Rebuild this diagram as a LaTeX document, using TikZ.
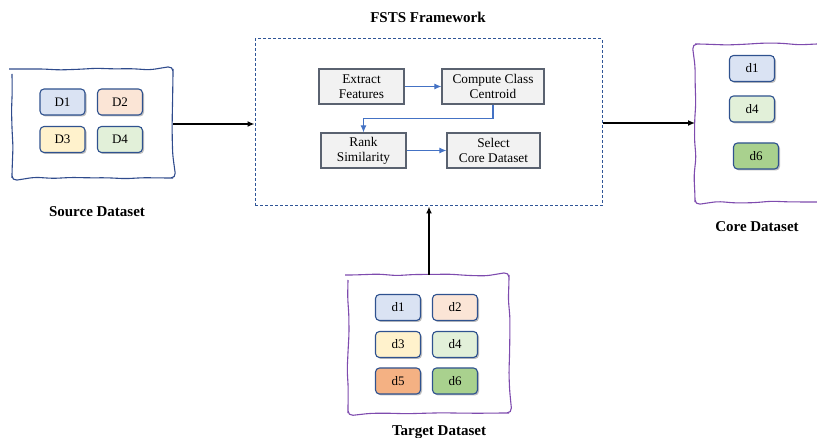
\documentclass[tikz,border=0pt]{standalone}
\usepackage{fontspec}
\setmainfont{Liberation Serif}
\usetikzlibrary{arrows.meta,shadows,decorations.pathmorphing,positioning}
\definecolor{cBlue}{HTML}{DAE3F3}
\definecolor{cOrange}{HTML}{FBE5D6}
\definecolor{cYellow}{HTML}{FFF2CC}
\definecolor{cGreen}{HTML}{E2F0D9}
\definecolor{cDOrange}{HTML}{F4B183}
\definecolor{cDGreen}{HTML}{A9D18E}
\definecolor{dBorder}{HTML}{2F528F}
\definecolor{pBorder}{HTML}{5A6270}
\definecolor{pFill}{HTML}{F2F2F2}
\definecolor{aBlue}{HTML}{4472C4}
\definecolor{dashBlue}{HTML}{2F5597}
\definecolor{wavyPurple}{HTML}{7E4BAE}
\definecolor{wavyNavy}{HTML}{2F4B8C}
\tikzset{
  dbox/.style={draw=dBorder, line width=1.1pt, rounded corners=4pt, minimum width=45pt, minimum height=26pt, inner sep=0pt, font=\fontsize{13}{15}\selectfont, drop shadow={shadow xshift=1.5pt, shadow yshift=-1.5pt, fill=black, opacity=0.25}},
  pbox/.style={draw=pBorder, fill=pFill, line width=1.2pt, minimum height=35pt, inner sep=0pt, align=center, font=\fontsize{13.3}{15}\selectfont},
  wavy/.style={decorate, decoration={random steps, segment length=18pt, amplitude=1pt}, rounded corners=5pt, line width=1.1pt},
  blk/.style={-{Latex[length=7pt,width=6pt]}, line width=1.4pt, black},
  bl/.style={-{Latex[length=7pt,width=6pt]}, line width=1.1pt, aBlue},
  lbl/.style={font=\bfseries\fontsize{15}{17}\selectfont, inner sep=0pt}
}
\begin{document}
\begin{tikzpicture}[x=1pt,y=1pt]
\useasboundingbox (0,0) rectangle (817,-438);
\pgfmathsetseed{7}
% Source dataset
\draw[wavy, wavyNavy] (12,-69) rectangle (173,-178);
\node[dbox, fill=cBlue, minimum width=45pt] (D1) at (62.5,-102) {D1};
\node[dbox, fill=cOrange] (D2) at (120,-102) {D2};
\node[dbox, fill=cYellow] (D3) at (62.5,-139.5) {D3};
\node[dbox, fill=cGreen] (D4) at (120,-139.5) {D4};
\coordinate (srcR) at (173,-124);
\node[lbl] (srcL) at (97,-212) {Source Dataset};

% Framework
\node[draw=dashBlue, dash pattern=on 3pt off 2pt, line width=1pt, minimum width=347pt, minimum height=167pt, inner sep=0pt] (fw) at (428.5,-122.5) {};
\node[lbl] (fwL) at (428,-17) {FSTS Framework};
\node[pbox, minimum width=85pt] (ef) at (361.5,-86.5) {Extract\\Features};
\node[pbox, minimum width=102pt] (cc) at (493,-86.5) {Compute Class\\Centroid};
\node[pbox, minimum width=85pt] (rs) at (363.5,-150.5) {Rank\\Similarity};
\node[pbox, minimum width=93pt] (sc) at (493.5,-150.5) {Select\\Core Dataset};
\draw[bl] (ef) -- (cc);
\draw[bl] (cc.south) -- ++(0,-14) -| (rs.north);
\draw[bl] (rs) -- (sc);

% Core dataset
\draw[wavy, wavyPurple] (817,-44) -- (695,-44) -- (695,-202) -- (817,-202);
\node[dbox, fill=cBlue] (c1) at (752,-68.5) {d1};
\node[dbox, fill=cGreen] (c4) at (752,-109) {d4};
\node[dbox, fill=cDGreen] (c6) at (756,-156) {d6};
\node[lbl] (coreL) at (757,-227) {Core Dataset};
\coordinate (coreLft) at (695,-123);

% Target dataset
\draw[wavy, wavyPurple] (348,-275) rectangle (509,-413);
\node[dbox, fill=cBlue] (t1) at (398,-307.5) {d1};
\node[dbox, fill=cOrange] (t2) at (455,-307.5) {d2};
\node[dbox, fill=cYellow] (t3) at (398,-344.5) {d3};
\node[dbox, fill=cGreen] (t4) at (455,-344.5) {d4};
\node[dbox, fill=cDOrange] (t5) at (398,-381) {d5};
\node[dbox, fill=cDGreen] (t6) at (455,-381) {d6};
\node[lbl] (tgtL) at (439,-432) {Target Dataset};
\coordinate (tgtT) at (429,-275);

% Main arrows
\draw[blk] (srcR) -- (fw.west |- srcR);
\draw[blk] (fw.east |- coreLft) -- (coreLft);
\draw[blk] (tgtT) -- (tgtT |- fw.south);
\end{tikzpicture}
\end{document}
